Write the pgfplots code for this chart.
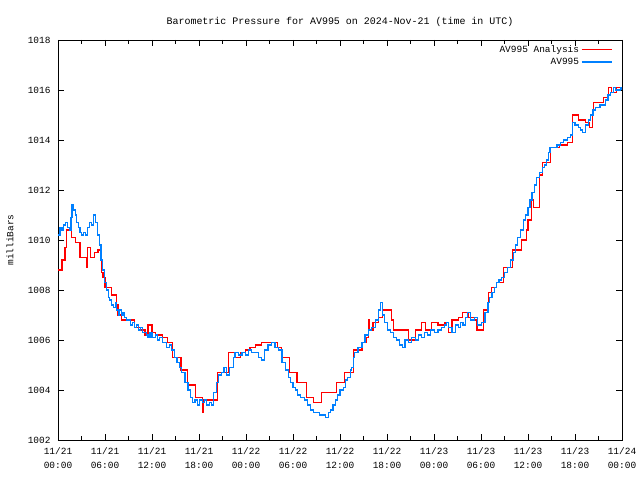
\documentclass[border=0pt]{standalone}
\usepackage{pgfplots}
\pgfplotsset{compat=1.18}
\usepackage{fontspec}
\setmainfont{Liberation Mono}
\definecolor{anred}{RGB}{255,0,0}
\definecolor{obsblue}{RGB}{0,128,255}
\pgfplotstableread{
h v
0.0 1008.8
0.5 1009.2
0.9 1009.7
1.1 1010.4
1.75 1010.1
2.2 1009.9
2.8 1009.3
3.7 1008.9
3.8 1009.7
4.2 1009.3
4.7 1009.5
5.1 1009.6
5.6 1008.7
5.75 1008.5
6.0 1008.1
6.85 1007.8
7.5 1007.4
7.65 1007.0
8.1 1006.8
9.8 1006.5
10.5 1006.4
11.1 1006.2
11.5 1006.6
12.0 1006.3
12.4 1006.2
13.3 1006.1
14.0 1005.9
14.6 1005.3
15.7 1004.8
16.5 1004.2
17.6 1003.7
18.4 1003.1
18.5 1003.6
20.4 1004.7
21.8 1005.5
22.5 1005.3
23.3 1005.5
23.9 1005.6
24.5 1005.7
25.2 1005.8
26.0 1005.9
28.0 1005.7
28.5 1005.3
29.6 1004.7
30.5 1004.3
31.7 1003.7
32.6 1003.5
33.6 1003.9
35.6 1004.3
36.6 1004.7
37.7 1005.6
38.8 1005.9
39.4 1006.1
39.6 1006.8
39.75 1006.4
40.2 1006.7
40.9 1006.9
41.4 1007.2
42.6 1006.8
42.8 1006.4
44.7 1006.0
45.6 1006.4
46.4 1006.7
46.9 1006.4
47.7 1006.7
48.5 1006.6
49.4 1006.7
49.8 1006.3
50.3 1006.8
51.1 1006.9
51.6 1007.1
52.4 1006.9
53.2 1006.8
53.5 1006.4
54.3 1007.2
55.0 1007.9
55.3 1008.1
56.0 1008.3
56.9 1008.9
58.0 1009.6
59.2 1010.0
59.8 1010.4
60.0 1010.8
60.4 1011.6
60.7 1011.3
61.5 1012.6
61.9 1013.1
62.9 1013.7
64.0 1013.8
65.0 1013.9
65.7 1015.0
66.4 1014.8
67.3 1014.7
67.8 1014.5
68.2 1015.1
68.4 1015.5
69.6 1015.7
70.3 1016.1
70.7 1015.9
71.3 1016.1
72.0 1016.0
}\analysis
\pgfplotstableread{
h v
0.0 1010.2
0.25 1010.5
0.5 1010.4
0.75 1010.6
1.0 1010.7
1.25 1010.5
1.5 1010.4
1.65 1010.9
1.8 1011.4
2.0 1011.2
2.2 1011.0
2.4 1010.7
2.6 1010.5
2.8 1010.3
3.0 1010.2
3.25 1010.3
3.5 1010.2
3.75 1010.5
4.0 1010.7
4.25 1010.6
4.5 1011.0
4.75 1010.7
5.0 1010.2
5.25 1009.8
5.5 1009.2
5.7 1008.8
5.9 1008.3
6.15 1008.0
6.4 1007.7
6.6 1007.6
6.8 1007.4
7.05 1007.3
7.3 1007.5
7.5 1007.2
7.7 1007.0
7.9 1007.2
8.1 1007.0
8.3 1007.1
8.5 1006.9
8.75 1006.8
9.0 1006.8
9.25 1006.6
9.5 1006.7
9.75 1006.5
10.0 1006.6
10.25 1006.4
10.5 1006.5
10.75 1006.3
11.0 1006.3
11.25 1006.2
11.5 1006.1
11.75 1006.3
12.0 1006.1
12.4 1006.2
12.7 1006.0
13.0 1006.1
13.3 1005.9
13.6 1005.9
13.9 1005.7
14.2 1005.8
14.5 1005.6
14.85 1005.3
15.2 1005.1
15.5 1004.9
15.8 1004.7
16.2 1004.3
16.6 1004.0
16.9 1003.7
17.2 1003.5
17.5 1003.6
17.8 1003.4
18.1 1003.6
18.4 1003.5
18.7 1003.6
19.0 1003.4
19.3 1003.5
19.6 1003.4
19.9 1003.9
20.2 1004.3
20.5 1004.6
20.9 1004.7
21.2 1004.9
21.5 1004.6
21.85 1004.9
22.2 1004.9
22.4 1005.3
22.6 1005.5
23.0 1005.4
23.5 1005.5
23.9 1005.4
24.3 1005.6
24.7 1005.5
25.2 1005.5
25.6 1005.3
26.0 1005.2
26.4 1005.6
26.8 1005.8
27.3 1005.9
27.7 1005.7
28.1 1005.6
28.6 1005.1
29.0 1004.8
29.4 1004.5
29.7 1004.3
30.0 1004.1
30.3 1004.0
30.6 1003.8
31.0 1003.7
31.5 1003.6
31.8 1003.4
32.2 1003.2
32.6 1003.1
33.0 1003.1
33.4 1003.0
33.8 1003.0
34.1 1002.9
34.5 1003.1
34.8 1003.2
35.1 1003.4
35.4 1003.6
35.7 1003.8
36.0 1004.0
36.4 1004.1
36.7 1004.4
37.0 1004.5
37.3 1004.8
37.5 1004.9
37.7 1005.3
37.9 1005.5
38.3 1005.7
38.8 1005.9
39.2 1006.2
39.6 1006.4
40.0 1006.5
40.5 1006.8
40.9 1007.2
41.2 1007.5
41.45 1007.0
41.7 1006.7
42.1 1006.4
42.4 1006.3
42.8 1006.1
43.2 1006.0
43.6 1005.8
44.0 1005.7
44.3 1006.0
44.7 1005.9
45.1 1006.1
45.6 1006.0
46.0 1006.2
46.4 1006.1
46.8 1006.3
47.2 1006.2
47.6 1006.4
48.1 1006.3
48.5 1006.4
49.0 1006.5
49.3 1006.6
49.6 1006.7
49.9 1006.5
50.3 1006.3
50.7 1006.6
51.1 1006.5
51.4 1006.7
51.7 1006.6
52.0 1006.9
52.3 1007.1
52.7 1006.8
53.2 1006.9
53.6 1006.6
54.1 1006.7
54.5 1007.1
54.9 1007.5
55.1 1007.7
55.4 1007.9
55.7 1008.1
56.0 1008.3
56.3 1008.4
56.6 1008.5
57.0 1008.7
57.4 1008.9
57.8 1009.2
58.1 1009.5
58.4 1009.8
58.7 1010.1
59.0 1010.4
59.4 1010.8
59.7 1011.0
60.0 1011.3
60.25 1011.6
60.5 1011.9
60.8 1012.2
61.1 1012.5
61.5 1012.7
61.8 1012.9
62.1 1013.0
62.4 1013.2
62.6 1013.5
62.8 1013.7
63.2 1013.7
63.7 1013.8
64.1 1013.9
64.5 1014.0
65.0 1014.1
65.4 1014.2
65.7 1014.7
66.0 1014.6
66.4 1014.5
66.7 1014.4
67.0 1014.3
67.3 1014.6
67.7 1014.8
68.0 1015.0
68.3 1015.2
68.6 1015.3
68.9 1015.3
69.2 1015.4
69.6 1015.4
69.9 1015.6
70.2 1015.8
70.5 1015.9
70.9 1016.1
71.2 1016.0
71.5 1016.0
71.8 1016.1
72.0 1016.0
}\observed
\begin{document}
\begin{tikzpicture}
\begin{axis}[
  scale only axis,
  width=564bp, height=400bp,
  xmin=0, xmax=72, ymin=1002, ymax=1018,
  xtick={0,6,...,72},
  minor xtick={3,9,...,69},
  xticklabels={{11/21\\00:00},{11/21\\06:00},{11/21\\12:00},{11/21\\18:00},{11/22\\00:00},{11/22\\06:00},{11/22\\12:00},{11/22\\18:00},{11/23\\00:00},{11/23\\06:00},{11/23\\12:00},{11/23\\18:00},{11/24\\00:00}},
  xticklabel style={align=center, font=\fontsize{9.5}{14}\selectfont, yshift=-4bp},
  ytick={1002,1004,...,1018},
  /pgf/number format/assume math mode=true,
  yticklabel style={font=\fontsize{9.5}{11}\selectfont, /pgf/number format/1000 sep={}, xshift=-4bp},
  tick align=inside,
  major tick length=6bp,
  minor tick length=4bp,
  tick style={black, line width=0.8pt},
  axis line style={line width=0.9pt},
  ylabel={milliBars},
  ylabel style={font=\fontsize{9.5}{11}\selectfont, at={(axis description cs:-0.085,0.5)}, anchor=center},
  title={Barometric Pressure for AV995 on 2024-Nov-21 (time in UTC)},
  title style={font=\fontsize{10}{12}\selectfont, yshift=4bp},
  legend plot pos=right,
  legend cell align=right,
  legend style={at={(0.985,0.995)}, anchor=north east, draw=none, fill=none,
    font=\fontsize{9.5}{11}\selectfont, row sep=0.5bp, inner sep=1bp,
    /tikz/every even column/.append style={column sep=4bp}},
  legend image code/.code={\draw[#1, line width=1.3bp] (0bp,0bp) -- (30bp,0bp);},
]
\addplot[const plot, draw=anred, line width=1.2bp] table[x=h, y=v] {\analysis};
\addlegendentry{AV995 Analysis}
\addplot[const plot, draw=obsblue, line width=1.2bp] table[x=h, y=v] {\observed};
\addlegendentry{AV995}
\end{axis}
\pgfresetboundingbox
\useasboundingbox ([xshift=-58bp, yshift=-40bp]current axis.south west) rectangle ([xshift=18bp, yshift=40bp]current axis.north east);
\end{tikzpicture}
\end{document}
